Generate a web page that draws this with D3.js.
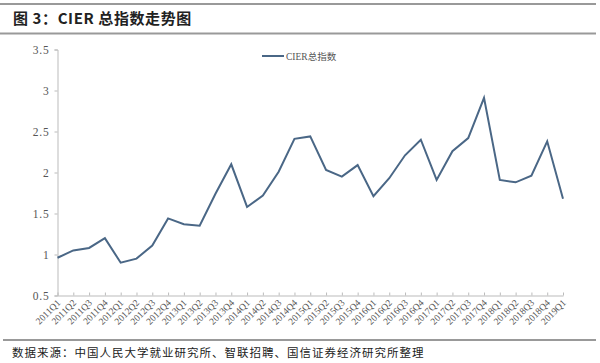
<!DOCTYPE html>
<html><head><meta charset="utf-8">
<script src="https://cdn.jsdelivr.net/npm/d3@7/dist/d3.min.js"></script>
<style>body{margin:0;background:#fff}svg{display:block}</style>
</head><body>
<svg id="c" width="600" height="363"></svg>
<script>
const categories = ["2011Q1","2011Q2","2011Q3","2011Q4","2012Q1","2012Q2","2012Q3","2012Q4",
"2013Q1","2013Q2","2013Q3","2013Q4","2014Q1","2014Q2","2014Q3","2014Q4",
"2015Q1","2015Q2","2015Q3","2015Q4","2016Q1","2016Q2","2016Q3","2016Q4",
"2017Q1","2017Q2","2017Q3","2017Q4","2018Q1","2018Q2","2018Q3","2018Q4","2019Q1"];
const cierValues = [0.96,1.05,1.08,1.20,0.90,0.95,1.11,1.44,
1.37,1.35,1.74,2.10,1.58,1.72,2.01,2.41,
2.44,2.03,1.95,2.09,1.71,1.93,2.21,2.40,
1.91,2.26,2.42,2.91,1.91,1.88,1.96,2.38,1.68];
const yTicks = [0.5,1,1.5,2,2.5,3,3.5];
const seriesName = "CIER总指数";
const titleText = "图 3：CIER 总指数走势图";
const sourceText = "数据来源：中国人民大学就业研究所、智联招聘、国信证券经济研究所整理";

const svg = d3.select("#c");
const serif = "'Liberation Serif','DejaVu Serif','Noto Sans CJK SC',serif";
const L = 57.5, R = 563, T = 49.5, B = 295.5;

svg.append("line").attr("x1",0).attr("x2",596).attr("y1",4).attr("y2",4).attr("stroke","#999").attr("stroke-width",2);
svg.append("line").attr("x1",0).attr("x2",596).attr("y1",33.5).attr("y2",33.5).attr("stroke","#999").attr("stroke-width",2);
svg.append("line").attr("x1",3).attr("x2",596).attr("y1",340).attr("y2",340).attr("stroke","#999").attr("stroke-width",2);

svg.append("text").attr("x",13).attr("y",24).attr("font-size",15).attr("font-weight","bold").attr("letter-spacing",0.6)
  .attr("font-family","'Noto Sans CJK SC',sans-serif").attr("fill","#222").text(titleText);
svg.append("text").attr("x",12).attr("y",357).attr("font-size",11.5).attr("letter-spacing",1)
  .attr("font-family","'Noto Sans CJK SC',serif").attr("fill","#222").text(sourceText);

const x = d3.scalePoint().domain(categories).range([L, R]);
const y = d3.scaleLinear().domain([0.5, 3.5]).range([B, T]);

const ya = svg.append("g").attr("transform",`translate(${L},0)`)
  .call(d3.axisLeft(y).tickValues(yTicks).tickSize(3).tickFormat(d => String(d)));
ya.select(".domain").attr("stroke","#bbb");
ya.selectAll(".tick line").attr("stroke","#bbb");
ya.selectAll(".tick text").attr("font-family",serif).attr("font-size",11.5).attr("fill","#555").attr("x",-8).attr("letter-spacing",0.8);

const xa = svg.append("g").attr("transform",`translate(0,${B})`)
  .call(d3.axisBottom(x).tickSize(-3).tickSizeOuter(0));
xa.select(".domain").attr("stroke","#bbb");
xa.selectAll(".tick line").attr("stroke","#bbb");
xa.selectAll(".tick text").attr("font-family",serif).attr("font-size",9.5).attr("fill","#555")
  .attr("text-anchor","end").attr("dy",0).attr("y",0)
  .attr("transform","translate(3,8) rotate(-45)");

const line = d3.line().x((d,i)=>x(categories[i])).y(d=>y(d));
svg.append("path").datum(cierValues).attr("d",line).attr("fill","none")
  .attr("stroke","#4a6786").attr("stroke-width",2).attr("stroke-linejoin","miter");

svg.append("line").attr("x1",262).attr("x2",284).attr("y1",56).attr("y2",56).attr("stroke","#4a6786").attr("stroke-width",2);
svg.append("text").attr("x",286).attr("y",59.5).attr("font-size",9.5).attr("font-family",serif).attr("fill","#555").text(seriesName);
</script>
</body></html>
